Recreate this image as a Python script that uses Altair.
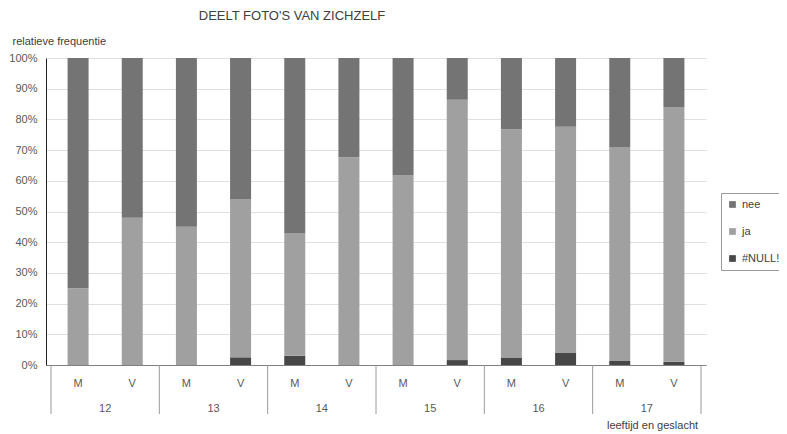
import altair as alt
import pandas as pd

ages = ["12", "13", "14", "15", "16", "17"]
genders = ["M", "V"]
# per bar (12M, 12V, 13M, 13V, ...), percentages
null_vals = [0, 0, 0, 2.5, 3.0, 0, 0, 1.6, 2.3, 3.9, 1.3, 1.1]
ja_vals = [25, 48, 45, 51.6, 40, 67.7, 61.7, 84.8, 74.5, 73.7, 69.7, 82.8]
nee_vals = [75, 52, 55, 45.9, 57, 32.3, 38.3, 13.6, 23.2, 22.4, 29.0, 16.1]
series = ["#NULL!", "ja", "nee"]

rows = []
labels = []
for g, age in enumerate(ages):
    for k, sex in enumerate(genders):
        i = 2 * g + k
        labels.append({"pos": i + 0.5, "txt": sex})
        for s, vals in enumerate([null_vals, ja_vals, nee_vals]):
            rows.append({"pos": i + 0.5, "serie": series[s], "ord": s, "pct": vals[i]})
df = pd.DataFrame(rows)
lab_df = pd.DataFrame(labels)
age_df = pd.DataFrame({"pos": [2 * g + 1 for g in range(len(ages))], "txt": ages})
sep_df = pd.DataFrame({"pos": [2 * g for g in range(len(ages) + 1)]})

FONT = "Liberation Sans"
xscale = alt.Scale(domain=[0, 12], nice=False, zero=False)

bars = alt.Chart(df).mark_bar(size=21).encode(
    x=alt.X("pos:Q", scale=xscale,
            axis=alt.Axis(labels=False, ticks=False, grid=False, domain=True,
                          domainColor="#7f7f7f", title="leeftijd en geslacht",
                          titleX=606, titleY=60, titleAlign="center",
                          titleBaseline="middle", titleFont=FONT,
                          titleFontSize=11, titleFontWeight="normal",
                          titleColor="#404040")),
    y=alt.Y("pct:Q", stack="zero",
            scale=alt.Scale(domain=[0, 100], nice=False),
            axis=alt.Axis(values=list(range(0, 101, 10)),
                          labelExpr="datum.value + '%'", ticks=False,
                          labelPadding=9, labelFont=FONT, labelFontSize=11,
                          labelColor="#595959", gridColor="#e0e0e0",
                          domainColor="#202020",
                          title="relatieve frequentie", titleAngle=0,
                          titleAlign="left", titleX=-34, titleY=-17,
                          titleBaseline="middle", titleFont=FONT,
                          titleFontSize=11, titleFontWeight="normal",
                          titleColor="#404040")),
    color=alt.Color("serie:N",
                    scale=alt.Scale(domain=["nee", "ja", "#NULL!"],
                                    range=["#747474", "#a0a0a0", "#474747"]),
                    legend=alt.Legend(title=None, orient="none", legendX=675,
                                      legendY=135, symbolType="square",
                                      symbolSize=45, symbolStrokeWidth=0,
                                      labelOffset=4, labelFont=FONT,
                                      labelFontSize=11, labelColor="#404040",
                                      rowPadding=15, padding=6,
                                      strokeColor="#9a9a9a",
                                      fillColor="white")),
    order=alt.Order("ord:Q"),
)

sx = alt.Chart(lab_df).mark_text(font=FONT, fontSize=11, color="#595959").encode(
    x=alt.X("pos:Q", scale=xscale), y=alt.value(326), text="txt:N")
ax = alt.Chart(age_df).mark_text(font=FONT, fontSize=11, color="#595959").encode(
    x=alt.X("pos:Q", scale=xscale), y=alt.value(351), text="txt:N")
seps = alt.Chart(sep_df).mark_rule(color="#9a9a9a", strokeWidth=1).encode(
    x=alt.X("pos:Q", scale=xscale), y=alt.value(307), y2=alt.value(356))

chart = alt.layer(bars, seps, sx, ax).properties(
    width=660, height=307,
    autosize=alt.AutoSizeParams(type="none"),
    padding={"left": 38, "top": 50, "right": 73, "bottom": 68},
    title=alt.TitleParams("DEELT FOTO'S VAN ZICHZELF", anchor="middle", dx=-84,
                          offset=12, font=FONT, fontSize=13,
                          fontWeight="normal", color="#404040"),
).configure_view(stroke=None)

chart.save("out.html", embed_options={"renderer": "svg", "actions": False})
